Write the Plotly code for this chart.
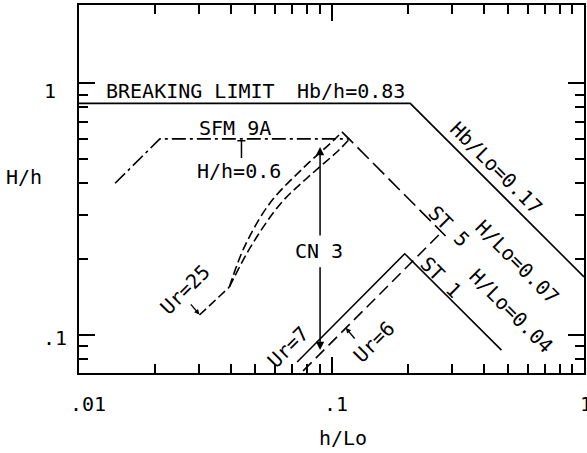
import numpy as np
import plotly.graph_objects as go

# ---------------- data ----------------
# axis ticks
x_major = [0.01, 0.1, 1.0]
x_major_text = [".01", ".1", "1"]
x_minor = [0.02, 0.03, 0.04, 0.05, 0.06, 0.07, 0.08, 0.09,
           0.2, 0.3, 0.4, 0.5, 0.6, 0.7, 0.8, 0.9]
y_major = [0.1, 1.0]
y_major_text = [".1", "1"]
y_minor = [0.08, 0.09, 0.2, 0.3, 0.4, 0.5, 0.6, 0.7, 0.8, 0.9]

# breaking limit  Hb/h = 0.83 and Hb/Lo = 0.17
brk_x = [0.01, 0.205, 1.0]
brk_y = [0.83, 0.83, 0.17]

# SFM 9A (dash-dot)
sfm_x = [0.0139, 0.0209, 0.118]
sfm_y = [0.40, 0.60, 0.60]

# CN 3: Ur = 25 segment and two dashed curves
ur25_x = [0.0300, 0.0394]
ur25_y = [0.120, 0.155]
cn3_lo_x = [0.0394, 0.0486, 0.0632, 0.0801, 0.1071, 0.118]
cn3_lo_y = [0.155, 0.2297, 0.3341, 0.4198, 0.542, 0.600]
cn3_hi_x = [0.0394, 0.0452, 0.0567, 0.0758, 0.1023, 0.110]
cn3_hi_y = [0.155, 0.2235, 0.331, 0.4515, 0.594, 0.640]

# ST 5 (dashed): H/Lo = 0.07 branch and Ur = 6 branch
st5_hi_x = [0.110, 0.283]
st5_hi_y = [0.640, 0.247]
st5_lo_x = [0.0772, 0.273]
st5_lo_y = [0.0720, 0.256]

# ST 1 (solid): Ur = 7 branch and H/Lo = 0.04 branch
st1_x = [0.0731, 0.195, 0.471]
st1_y = [0.0781, 0.210, 0.087]

# pointer "T" for H/h = 0.6
tptr_x = [0.0424, 0.0456, None, 0.0440, 0.0440]
tptr_y = [0.59, 0.59, None, 0.59, 0.504]

# CN 3 range arrow
cn3_arrow_x = 0.0901
cn3_arrow_up = (0.245, 0.557)     # (tail, tip)
cn3_arrow_down = (0.188, 0.0872)  # (tail, tip)

# small pointer arrows (tail -> tip)
ur25_ptr = ((0.0274, 0.134), (0.0300, 0.1205))
ur6_ptr = ((0.1249, 0.0955), (0.114, 0.1066))

# text labels: text, x, y, angle
labels = [
    ("BREAKING LIMIT", 0.02766, 0.930, 0),
    ("Hb/h=0.83", 0.1194, 0.930, 0),
    ("SFM 9A", 0.0416, 0.663, 0),
    ("H/h=0.6", 0.0432, 0.4475, 0),
    ("CN 3", 0.0893, 0.2154, 0),
    ("Hb/Lo=0.17", 0.4497, 0.46, 45),
    ("ST 5", 0.2907, 0.2707, 45),
    ("H/Lo=0.07", 0.5441, 0.1949, 45),
    ("ST 1", 0.2704, 0.170, 45),
    ("H/Lo=0.04", 0.515, 0.1245, 45),
    ("Ur=25", 0.02619, 0.151, -45),
    ("Ur=7", 0.0674, 0.0896, -45),
    ("Ur=6", 0.1472, 0.0938, -45),
]

# ---------------- figure ----------------
FONT = "DejaVu Sans Mono"
fig = go.Figure()


def add_line(x, y, dash="solid", width=1.6, shape="linear"):
    fig.add_trace(go.Scatter(x=x, y=y, mode="lines", hoverinfo="skip",
                             line=dict(color="black", width=width, dash=dash,
                                       shape=shape),
                             showlegend=False))


add_line(brk_x, brk_y, "solid")
add_line(sfm_x, sfm_y, "14px,4px,3px,4px")
add_line(ur25_x, ur25_y, "9px,4px")
add_line(cn3_lo_x, cn3_lo_y, "9px,4px", shape="spline")
add_line(cn3_hi_x, cn3_hi_y, "9px,4px", shape="spline")
add_line(st5_hi_x, st5_hi_y, "16px,6px")
add_line(st5_lo_x, st5_lo_y, "12px,6px")
add_line(st1_x, st1_y, "solid")
add_line(tptr_x, tptr_y, "solid", 1.5)

ann = []
L = np.log10
# CN 3 arrows
for tail, tip in (cn3_arrow_up, cn3_arrow_down):
    ann.append(dict(x=L(cn3_arrow_x), y=L(tip), ax=L(cn3_arrow_x), ay=L(tail),
                    xref="x", yref="y", axref="x", ayref="y", text="",
                    showarrow=True, arrowhead=2, arrowsize=1.1, arrowwidth=1.5,
                    arrowcolor="black"))
for tail, tip in (ur25_ptr, ur6_ptr):
    ann.append(dict(x=L(tip[0]), y=L(tip[1]), ax=L(tail[0]), ay=L(tail[1]),
                    xref="x", yref="y", axref="x", ayref="y", text="",
                    showarrow=True, arrowhead=2, arrowsize=0.8, arrowwidth=1.3,
                    arrowcolor="black"))

for t, x, y, a in labels:
    ann.append(dict(x=L(x), y=L(y), xref="x", yref="y", text=t, showarrow=False,
                    textangle=a, xanchor="center", yanchor="middle",
                    font=dict(family=FONT, size=20, color="black")))

# tick labels
for v, t, sh in zip(x_major, x_major_text, [9, 4, 2]):
    ann.append(dict(x=L(v), y=0, xref="x", yref="paper", text=t, showarrow=False,
                    xanchor="center", yanchor="middle", xshift=sh, yshift=-31,
                    font=dict(family=FONT, size=20, color="black")))
for v, t, sh, ysh in zip(y_major, y_major_text, [-24, -29], [-3.5, -8]):
    ann.append(dict(x=0, y=L(v), xref="paper", yref="y", text=t, showarrow=False,
                    xanchor="center", yanchor="middle", xshift=sh, yshift=ysh,
                    font=dict(family=FONT, size=20, color="black")))

# axis titles
ann.append(dict(x=-0.1085, y=0.5326, xref="paper", yref="paper", text="H/h",
                showarrow=False, xanchor="center", yanchor="middle",
                font=dict(family=FONT, size=20, color="black")))
ann.append(dict(x=0.5227, y=-0.1766, xref="paper", yref="paper", text="h/Lo",
                showarrow=False, xanchor="center", yanchor="middle",
                font=dict(family=FONT, size=20, color="black")))

axis_common = dict(type="log", showgrid=False, zeroline=False, showline=True,
                   linecolor="black", linewidth=2, mirror="allticks",
                   ticks="inside", ticklen=16, tickwidth=2, tickcolor="black",
                   showticklabels=False, tickmode="array")

fig.update_xaxes(range=[-2, 0], tickvals=x_major,
                 minor=dict(tickvals=x_minor, ticks="inside", ticklen=9,
                            tickwidth=2, tickcolor="black"),
                 **axis_common)
fig.update_yaxes(range=[-1.151, 0.3095], tickvals=y_major,
                 minor=dict(tickvals=y_minor, ticks="inside", ticklen=9,
                            tickwidth=2, tickcolor="black"),
                 **axis_common)

fig.update_layout(width=587, height=453,
                  margin=dict(l=79, r=1, t=5, b=80, pad=0),
                  paper_bgcolor="white", plot_bgcolor="white",
                  showlegend=False, annotations=ann,
                  font=dict(family=FONT, size=20, color="black"))

fig.write_html("out.html", config={"displayModeBar": False})
